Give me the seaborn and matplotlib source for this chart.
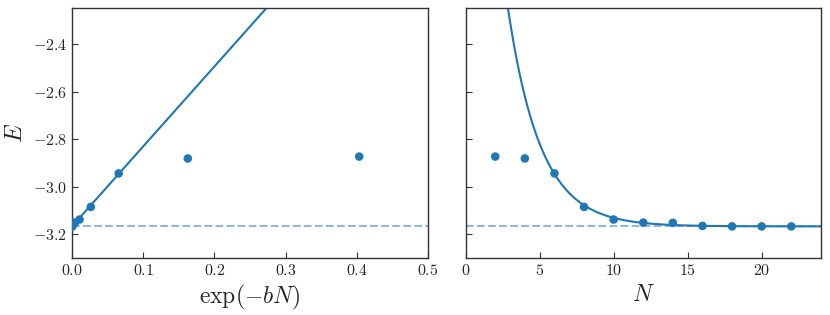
import numpy as np
import pandas as pd
import matplotlib
matplotlib.use("Agg")
import matplotlib.pyplot as plt
import seaborn as sns

# data
N = [2, 4, 6, 8, 10, 12, 14, 16, 18, 20, 22]
E = [-2.873, -2.881, -2.944, -3.085, -3.138, -3.151, -3.152, -3.165, -3.167, -3.167, -3.167]

# fit E = E0 + a * exp(-b N)
b_fit = 0.454
a_fit = 3.366
E0_fit = -3.167

sns.set_style("ticks")
plt.rcParams['font.family'] = 'serif'
plt.rcParams['font.serif'] = ['cmr10', 'DejaVu Serif']
plt.rcParams['mathtext.fontset'] = 'cm'
plt.rcParams['axes.formatter.use_mathtext'] = True
plt.rcParams['axes.unicode_minus'] = True

blue = '#1f77b4'

df = pd.DataFrame({'N': N, 'E': E})
df['x'] = np.exp(-b_fit * df['N'])

fig = plt.figure(figsize=(8.3, 3.15), dpi=100)
ax1 = fig.add_axes([0.0867, 0.181, 0.429, 0.794])
ax2 = fig.add_axes([0.561, 0.181, 0.428, 0.794], sharey=ax1)

# left panel: E vs exp(-bN)
xs = np.linspace(0, 0.5, 200)
sns.lineplot(x=xs, y=E0_fit + a_fit * xs, ax=ax1, color=blue, lw=1.5)
sns.scatterplot(data=df, x='x', y='E', ax=ax1, color=blue, s=38, edgecolor='none', zorder=3)
ax1.axhline(E0_fit, color=blue, alpha=0.5, ls='--', lw=1.5)
ax1.set_xlim(0, 0.5)
ax1.set_xlabel(r'$\exp(-bN)$', fontsize=17)
ax1.set_ylabel(r'$E$', fontsize=17)

# right panel: E vs N
ns = np.linspace(0.5, 24, 400)
sns.lineplot(x=ns, y=E0_fit + a_fit * np.exp(-b_fit * ns), ax=ax2, color=blue, lw=1.5)
sns.scatterplot(data=df, x='N', y='E', ax=ax2, color=blue, s=38, edgecolor='none', zorder=3)
ax2.axhline(E0_fit, color=blue, alpha=0.5, ls='--', lw=1.5)
ax2.set_xlim(0, 24)
ax2.set_xlabel(r'$N$', fontsize=17)
ax2.set_ylabel('')
ax2.tick_params(labelleft=False)

ax1.set_ylim(-3.3, -2.247)
ax1.set_yticks([-3.2, -3.0, -2.8, -2.6, -2.4])

for ax in (ax1, ax2):
    ax.tick_params(direction='in', labelsize=11.5, length=4, color='#333333')
    for sp in ax.spines.values():
        sp.set_visible(True)
        sp.set_color('#333333')
        sp.set_linewidth(1.0)

fig.savefig('out.png', dpi=100)
